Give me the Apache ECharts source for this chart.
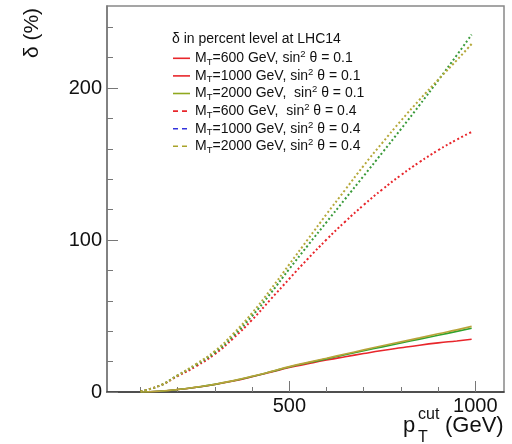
<!DOCTYPE html>
<html>
<head>
<meta charset="utf-8">
<script src="https://cdn.jsdelivr.net/npm/echarts@6/dist/echarts.min.js"></script>
<style>
  html, body { margin: 0; padding: 0; background: #fff; }
  #main { width: 512px; height: 444px; }
</style>
</head>
<body>
<div id="main"></div>
<script>
// pT cut values (GeV)
var ptCut = [100, 150, 200, 250, 300, 350, 400, 450, 500, 550, 600, 650, 700, 750, 800, 850, 900, 950, 990];

// sin^2 theta = 0.1 (solid)
var mt600s01  = [0, 0.5, 1.6, 3.1, 4.9, 7.2, 10, 13, 16.1, 18.6, 21, 23.2, 25.3, 27.3, 29.1, 30.8, 32.3, 33.6, 34.7];
var mt1000s01 = [0, 0.5, 1.6, 3.1, 5, 7.4, 10.2, 13.3, 16.5, 19.2, 21.8, 24.5, 27.1, 29.7, 32.2, 34.8, 37.3, 39.9, 42];
var mt2000s01 = [0, 0.5, 1.6, 3.2, 5.1, 7.5, 10.3, 13.4, 16.7, 19.5, 22.2, 25, 27.7, 30.4, 33, 35.6, 38.3, 40.9, 43.2];

// sin^2 theta = 0.4 (dashed)
var mt600s04  = [0.5, 4, 10.5, 17, 25, 35.5, 47.5, 61, 74.5, 87.7, 100.3, 112.1, 123.1, 133.3, 142.7, 151.3, 159.1, 166.1, 171.1];
var mt1000s04 = [0.5, 4, 11, 18, 26, 37, 50, 65, 81, 96.5, 111.8, 127, 142.2, 157.5, 173, 188.8, 205, 221.6, 235.2];
var mt2000s04 = [0.5, 4, 11, 18.5, 27, 38.5, 52, 67.5, 84, 100.5, 117, 133, 149, 164, 178.5, 192.3, 205.5, 218.3, 229];

var xMajor = [500, 1000];
var xMinor = [100, 200, 300, 400, 600, 700, 800, 900];
var yMajor = [0, 100, 200];
var yMinor = [20, 40, 60, 80, 120, 140, 160, 180, 220, 240];

var FONT = '"Liberation Sans", Arial, Helvetica, sans-serif';

var legendText = {
  s1: '{n|M}{sub|T}{n|=600 GeV, sin}{sup|2}{n| θ = 0.1}',
  s2: '{n|M}{sub|T}{n|=1000 GeV, sin}{sup|2}{n| θ = 0.1}',
  s3: '{n|M}{sub|T}{n|=2000 GeV,  sin}{sup|2}{n| θ = 0.1}',
  s4: '{n|M}{sub|T}{n|=600 GeV,  sin}{sup|2}{n| θ = 0.4}',
  s5: '{n|M}{sub|T}{n|=1000 GeV, sin}{sup|2}{n| θ = 0.4}',
  s6: '{n|M}{sub|T}{n|=2000 GeV, sin}{sup|2}{n| θ = 0.4}'
};

// legend icons: the two leading moveTo points fix the box to 17x10
var ICON_SOLID = 'path://M0,0 M17,10 M0,4.2 h17 v1.6 h-17 z';
var ICON_DASH = 'path://M0,0 M17,10 M0,4.2 h5 v1.6 h-5 z M9,4.2 h5 v1.6 h-5 z';

function pairs(ys) {
  return ys.map(function (y, i) { return [ptCut[i], y]; });
}

function makeSeries(name, ys, color, dashed) {
  return {
    name: name,
    type: 'line',
    xAxisIndex: 0,
    yAxisIndex: 0,
    data: pairs(ys),
    smooth: true,
    symbol: 'none',
    silent: true,
    lineStyle: {
      color: color,
      width: dashed ? 2 : 1.6,
      type: dashed ? [2, 2.4] : 'solid'
    }
  };
}

var chart = echarts.init(document.getElementById('main'), null, { renderer: 'canvas' });

var option = {
  animation: false,
  backgroundColor: '#fff',
  grid: {
    left: 107, top: 6, right: 8, bottom: 52,
    show: true, borderColor: '#888', borderWidth: 1.5, backgroundColor: 'transparent'
  },
  xAxis: [
    {
      type: 'value', min: 10, max: 1077, position: 'bottom',
      axisLine: { show: true, lineStyle: { color: '#333', width: 1.5 } },
      axisTick: { show: true, inside: true, length: 11, customValues: xMajor, lineStyle: { color: '#777' } },
      axisLabel: {
        customValues: xMajor, fontSize: 20, fontFamily: FONT, color: '#111', margin: 4,
        formatter: function (v) { return String(v); }
      },
      splitLine: { show: false }
    },
    {
      type: 'value', min: 10, max: 1077, position: 'bottom',
      axisLine: { show: false },
      axisTick: { show: true, inside: true, length: 5, customValues: xMinor, lineStyle: { color: '#777' } },
      axisLabel: { show: false },
      splitLine: { show: false }
    }
  ],
  yAxis: [
    {
      type: 'value', min: 0, max: 254, position: 'left',
      axisLine: { show: true, lineStyle: { color: '#777', width: 1.5 } },
      axisTick: { show: true, inside: true, length: 11, customValues: yMajor, lineStyle: { color: '#777' } },
      axisLabel: {
        customValues: yMajor, fontSize: 20, fontFamily: FONT, color: '#111', margin: 5,
        formatter: function (v) { return String(v); }
      },
      splitLine: { show: false }
    },
    {
      type: 'value', min: 0, max: 254, position: 'left',
      axisLine: { show: false },
      axisTick: { show: true, inside: true, length: 6, customValues: yMinor, lineStyle: { color: '#777' } },
      axisLabel: { show: false },
      splitLine: { show: false }
    }
  ],
  legend: {
    orient: 'vertical',
    left: 173,
    top: 49.5,
    padding: 0,
    itemGap: 0,
    itemWidth: 17,
    itemHeight: 10,
    symbolKeepAspect: false,
    selectedMode: false,
    data: [
      { name: 's1', icon: ICON_SOLID, itemStyle: { color: '#e8262b' } },
      { name: 's2', icon: ICON_SOLID, itemStyle: { color: '#e8262b' } },
      { name: 's3', icon: ICON_SOLID, itemStyle: { color: '#8fa81e' } },
      { name: 's4', icon: ICON_DASH, itemStyle: { color: '#e8262b' } },
      { name: 's5', icon: ICON_DASH, itemStyle: { color: '#3333dd' } },
      { name: 's6', icon: ICON_DASH, itemStyle: { color: '#a9a32a' } }
    ],
    formatter: function (name) { return legendText[name]; },
    textStyle: {
      fontFamily: FONT,
      fontSize: 14,
      color: '#111',
      rich: {
        n: { fontFamily: FONT, fontSize: 14, color: '#111', lineHeight: 17.6 },
        sub: { fontFamily: FONT, fontSize: 9.5, color: '#111', lineHeight: 10, verticalAlign: 'bottom' },
        sup: { fontFamily: FONT, fontSize: 9.5, color: '#111', lineHeight: 10, verticalAlign: 'top' }
      }
    }
  },
  graphic: [
    {
      type: 'text', left: 172, top: 32.5,
      style: { text: 'δ in percent level at LHC14', font: '14px ' + FONT, fill: '#111' }
    },
    {
      type: 'text', x: 32, y: 33, rotation: Math.PI / 2,
      style: { text: 'δ (%)', font: '21px ' + FONT, fill: '#111', align: 'center', verticalAlign: 'middle' }
    },
    {
      type: 'text', x: 403, y: 426,
      style: { text: 'p', font: '22px ' + FONT, fill: '#111', align: 'left', verticalAlign: 'middle' }
    },
    {
      type: 'text', x: 418, y: 415,
      style: { text: 'cut', font: '16px ' + FONT, fill: '#111', align: 'left', verticalAlign: 'middle' }
    },
    {
      type: 'text', x: 418, y: 438,
      style: { text: 'T', font: '16px ' + FONT, fill: '#111', align: 'left', verticalAlign: 'middle' }
    },
    {
      type: 'text', x: 445, y: 426,
      style: { text: '(GeV)', font: '22px ' + FONT, fill: '#111', align: 'left', verticalAlign: 'middle' }
    }
  ],
  series: [
    makeSeries('s1', mt600s01, '#e8262b', false),
    makeSeries('s2', mt1000s01, '#2fa32f', false),
    makeSeries('s3', mt2000s01, '#b8a43a', false),
    makeSeries('s4', mt600s04, '#e8262b', true),
    makeSeries('s5', mt1000s04, '#3a9a3a', true),
    makeSeries('s6', mt2000s04, '#b5a83a', true)
  ]
};

chart.setOption(option);
</script>
</body>
</html>
